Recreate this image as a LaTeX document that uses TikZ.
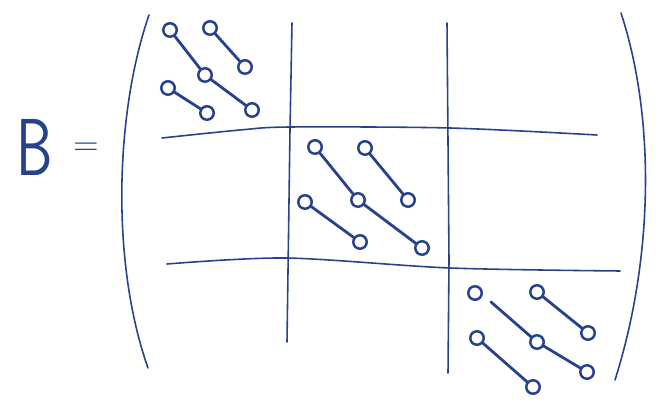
\documentclass[tikz,border=0pt]{standalone}
\usepackage{tikz}
\usetikzlibrary{positioning,calc}

\definecolor{ink}{RGB}{38,66,140}

\begin{document}
\begin{tikzpicture}[
    x=0.02cm, y=-0.02cm,
    dot/.style={draw=ink, circle, line width=1.4pt, inner sep=0pt, minimum size=0.27cm},
    link/.style={draw=ink, line width=1.6pt, line cap=round},
    pen/.style={draw=ink, line width=0.9pt, line cap=round}
]
\useasboundingbox (0,0) rectangle (659,405);

% B =
\node[text=ink, font=\sffamily\fontsize{46}{48}\selectfont, xscale=0.72] (name) at (35,147) {B};
\node[text=ink, font=\sffamily\fontsize{20}{22}\selectfont] (eq) at (86,149) {=};

% Klammern
\draw[pen] (149,15) .. controls (116,110) and (110,260) .. (148,368);
\draw[pen] (621,13) .. controls (656,120) and (653,260) .. (615,380);

% Gitterlinien
\draw[pen] plot[smooth] coordinates {(162,138) (240,130) (290,127) (450,128) (597,135)};
\draw[pen] plot[smooth] coordinates {(167,264) (286,258) (450,268) (620,271)};
\draw[pen] (292,23) -- (290,130) -- (287,342);
\draw[pen] (447,23) -- (449,260) -- (448,373);

% Block 1
\node[dot] (a1) at (170,30) {};
\node[dot] (b1) at (210,28) {};
\node[dot] (c1) at (205,75) {};
\node[dot] (d1) at (245,67) {};
\node[dot] (e1) at (168,88) {};
\node[dot] (f1) at (207,113) {};
\node[dot] (g1) at (252,110) {};

% Block 2
\node[dot] (a2) at (315,147) {};
\node[dot] (b2) at (365,148) {};
\node[dot] (c2) at (358,200) {};
\node[dot] (d2) at (408,200) {};
\node[dot] (e2) at (305,202) {};
\node[dot] (f2) at (360,242) {};
\node[dot] (g2) at (422,248) {};

% Block 3
\node[dot] (a3) at (475,293) {};
\node[dot] (b3) at (537,292) {};
\node[dot] (c3) at (537,342) {};
\node[dot] (d3) at (588,333) {};
\node[dot] (e3) at (477,338) {};
\node[dot] (f3) at (533,387) {};
\node[dot] (g3) at (587,372) {};
\coordinate (s3) at (491,302);

% Verbindungen
\draw[link] (a1) -- (c1) -- (g1);
\draw[link] (b1) -- (d1);
\draw[link] (e1) -- (f1);

\draw[link] (a2) -- (c2) -- (g2);
\draw[link] (b2) -- (d2);
\draw[link] (e2) -- (f2);

\draw[link] (s3) -- (c3) -- (g3);
\draw[link] (b3) -- (d3);
\draw[link] (e3) -- (f3);

\end{tikzpicture}
\end{document}
